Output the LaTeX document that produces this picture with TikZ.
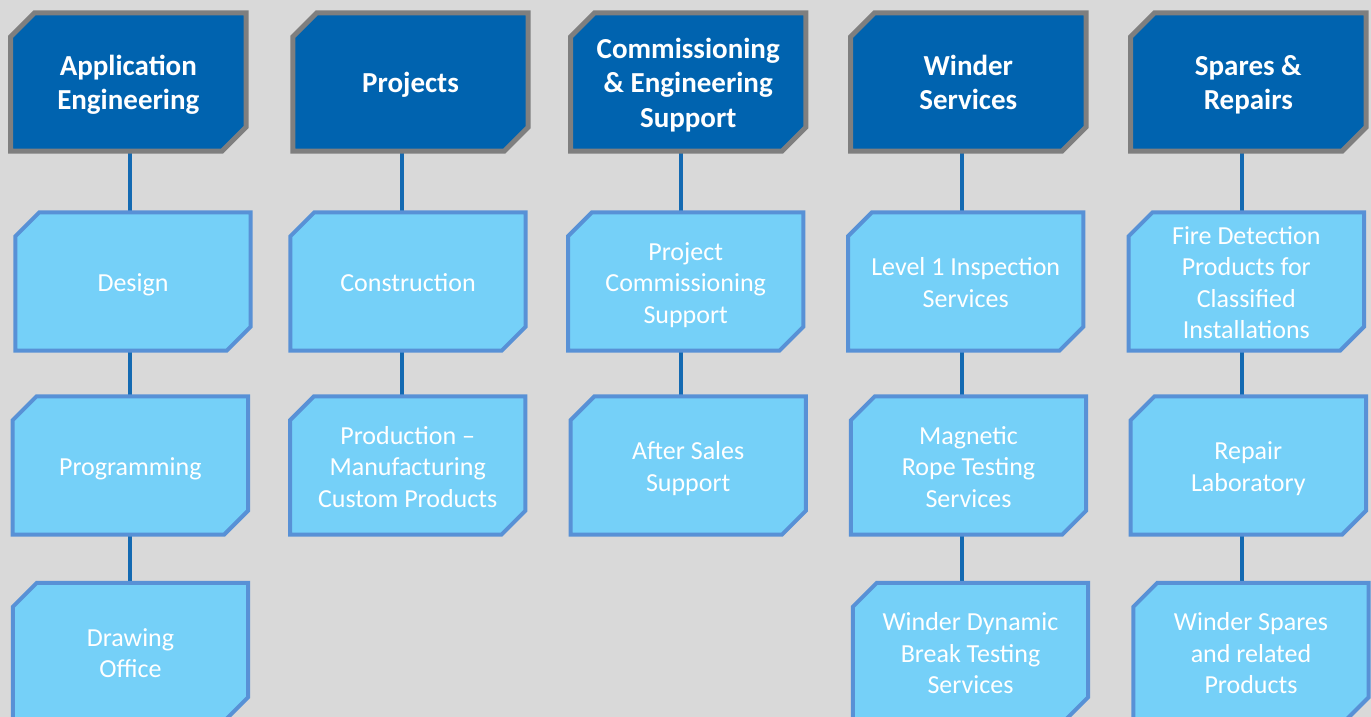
\documentclass[tikz,border=0pt]{standalone}
\usepackage{fontspec}
\setmainfont{Carlito}
\usetikzlibrary{calc}
\definecolor{bgc}{RGB}{217,217,217}
\definecolor{hdrfill}{RGB}{0,99,175}
\definecolor{hdrline}{RGB}{127,127,127}
\definecolor{boxfill}{RGB}{117,208,248}
\definecolor{boxline}{RGB}{88,145,214}
\definecolor{connc}{RGB}{20,106,178}
\pgfdeclarelayer{back}
\pgfsetlayers{back,main}
% struts: fixed height of first line and depth of last line
\newcommand\hfst{\rule{0pt}{30pt}}
\newcommand\hlst{\rule[-8.5pt]{0pt}{0pt}}
\newcommand\sfst{\rule{0pt}{28.5pt}}
\newcommand\slst{\rule[-8.5pt]{0pt}{0pt}}
\newcommand\chpoly[2]{%
  \path[#2] ($(#1.north west)+(24,0)$) -- (#1.north east) -- ($(#1.south east)+(0,-24)$)
    -- ($(#1.south east)+(-24,0)$) -- (#1.south west) -- ($(#1.north west)+(0,24)$) -- cycle;}
\begin{document}
\begin{tikzpicture}[x=1pt,y=-1pt,
  base/.style={rectangle, minimum width=235pt, minimum height=138pt, inner sep=0pt, align=center, text=white},
  hdr/.style={base, font=\fontsize{29}{34.5}\selectfont\bfseries},
  sub/.style={base, font=\fontsize{26}{31.5}\selectfont},
  hdrshape/.style={draw=hdrline, fill=hdrfill, line width=5pt},
  subshape/.style={draw=boxline, fill=boxfill, line width=4pt},
  conn/.style={draw=connc, line width=4pt}]
\useasboundingbox (0,0) rectangle (1371,717);
% column guide coordinates
\coordinate (c1) at (130,0);
\coordinate (c2) at (401.5,0);
\coordinate (c3) at (681,0);
\coordinate (c4) at (961.8,0);
\coordinate (c5) at (1241.5,0);
% headers
\node[hdr] (h1) at (128.3,82) {\hfst Application\\Engineering\hlst};
\node[hdr] (h2) at (410.5,82) {\hfst Projects\hlst};
\node[hdr] (h3) at (688.2,82) {\hfst Commissioning\\\& Engineering\\Support\hlst};
\node[hdr] (h4) at (968.3,82) {\hfst Winder\\Services\hlst};
\node[hdr] (h5) at (1248.3,82) {\hfst Spares \&\\Repairs\hlst};
% column 1
\node[sub] (a1) at (133,281.5) {\sfst Design\slst};
\node[sub] (a2) at (130.3,465.5) {\sfst Programming\slst};
\node[sub] (a3) at (130.5,652) {\sfst Drawing\\Office\slst};
% column 2
\node[sub] (b1) at (408,281.5) {\sfst Construction\slst};
\node[sub] (b2) at (407.7,465.5) {\sfst Production –\\Manufacturing\\Custom Products\slst};
% column 3
\node[sub] (d1) at (685.7,281.5) {\sfst Project\\Commissioning\\Support\slst};
\node[sub] (d2) at (688.2,465.5) {\sfst After Sales\\Support\slst};
% column 4
\node[sub] (e1) at (965.7,281.5) {\sfst Level 1 Inspection\\Services\slst};
\node[sub] (e2) at (968.5,465.5) {\sfst Magnetic\\Rope Testing\\Services\slst};
\node[sub] (e3) at (970.5,652) {\sfst Winder Dynamic\\Break Testing\\Services\slst};
% column 5
\node[sub] (f1) at (1246.3,281.5) {\sfst Fire Detection\\Products for\\Classified\\Installations\slst};
\node[sub] (f2) at (1248.3,465.5) {\sfst Repair\\Laboratory\slst};
\node[sub] (f3) at (1251,652) {\sfst Winder Spares\\and related\\Products\slst};
\begin{pgfonlayer}{back}
\fill[bgc] (0,0) rectangle (1371,717);
% connectors
\draw[conn] (h1.south -| c1) -- (a1.north -| c1);
\draw[conn] (a1.south -| c1) -- (a2.north -| c1);
\draw[conn] (a2.south -| c1) -- (a3.north -| c1);
\draw[conn] (h2.south -| c2) -- (b1.north -| c2);
\draw[conn] (b1.south -| c2) -- (b2.north -| c2);
\draw[conn] (h3.south -| c3) -- (d1.north -| c3);
\draw[conn] (d1.south -| c3) -- (d2.north -| c3);
\draw[conn] (h4.south -| c4) -- (e1.north -| c4);
\draw[conn] (e1.south -| c4) -- (e2.north -| c4);
\draw[conn] (e2.south -| c4) -- (e3.north -| c4);
\draw[conn] (h5.south -| c5) -- (f1.north -| c5);
\draw[conn] (f1.south -| c5) -- (f2.north -| c5);
\draw[conn] (f2.south -| c5) -- (f3.north -| c5);
% shapes
\foreach \n in {h1,h2,h3,h4,h5} {\chpoly{\n}{hdrshape}}
\foreach \n in {a1,a2,a3,b1,b2,d1,d2,e1,e2,e3,f1,f2,f3} {\chpoly{\n}{subshape}}
\end{pgfonlayer}
\end{tikzpicture}
\end{document}
